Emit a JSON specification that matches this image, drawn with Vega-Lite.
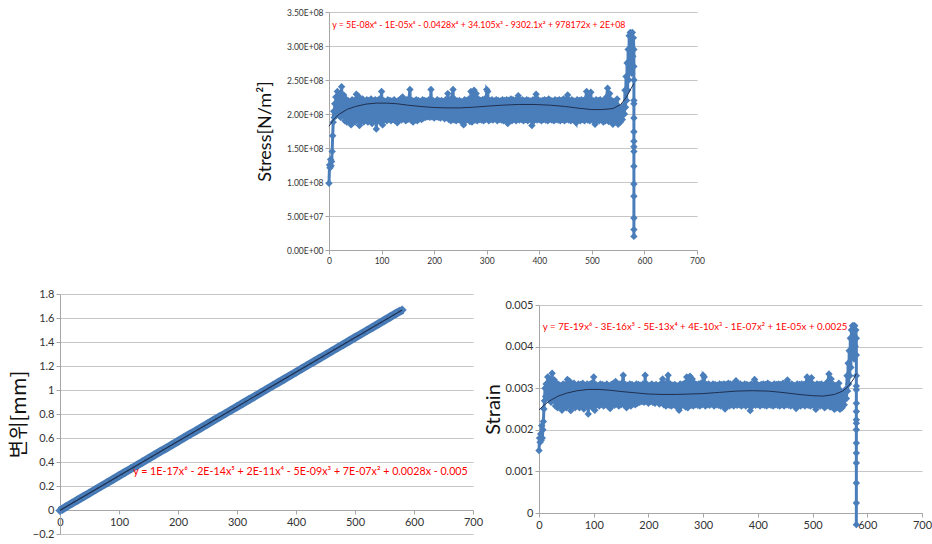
{
"$schema": "https://vega.github.io/schema/vega-lite/v6.json",
"padding": {"left": 9, "top": 8, "right": 0, "bottom": 0},
"background": "white",
"config": {
  "view": {"stroke": null},
  "font": "Lato",
  "axis": {"domainColor": "#a6a6a6", "tickColor": "#a6a6a6", "gridColor": "#c6c6c6", "labelColor": "#333333", "titleColor": "#111111", "titleFontWeight": "normal", "labelFont": "Lato", "tickSize": 4, "labelPadding": 2, "labelOverlap": false, "labelFlush": false, "tickCount": 20}
},
"datasets": {
  "ss": [
{"t":0,"s":0.98e8,"e":0.0015},{"t":1,"s":1.25e8,"e":0.0018},{"t":2,"s":1.21e8,"e":0.0017},{"t":3,"s":1.33e8,"e":0.0019},{"t":4,"s":1.24e8,"e":0.00175},{"t":5,"s":1.30e8,"e":0.0021},{"t":6,"s":1.45e8,"e":0.0018},{"t":7,"s":1.68e8,"e":0.002},{"t":8,"s":1.88e8,"e":0.0022},{"t":9,"s":2.04e8,"e":0.0025},{"t":10,"s":1.95e8,"e":0.0027},{"t":11,"s":2.15e8,"e":0.003},{"t":12,"s":2.02e8,"e":0.0028},{"t":13,"s":2.25e8,"e":0.0031},{"t":14,"s":1.98e8,"e":0.0028},
{"t":16,"s":2.33e8,"e":0.00327},{"t":18,"s":2.00e8,"e":0.00275},{"t":20,"s":2.30e8,"e":0.00322},{"t":22,"s":1.95e8,"e":0.00266},{"t":24,"s":2.40e8,"e":0.00336},{"t":26,"s":1.98e8,"e":0.00271},{"t":28,"s":2.28e8,"e":0.0032},{"t":30,"s":1.90e8,"e":0.00257},{"t":32,"s":2.22e8,"e":0.00312},{"t":34,"s":1.88e8,"e":0.00253},
{"t":36,"s":2.20e8,"e":0.00309},{"t":38,"s":1.92e8,"e":0.0026},{"t":40,"s":2.18e8,"e":0.00306},{"t":42,"s":1.84e8,"e":0.00247},{"t":44,"s":2.21e8,"e":0.0031},{"t":46,"s":1.90e8,"e":0.00257},{"t":48,"s":2.20e8,"e":0.00309},{"t":50,"s":1.88e8,"e":0.00253},{"t":52,"s":2.29e8,"e":0.00321},{"t":54,"s":1.92e8,"e":0.0026},
{"t":56,"s":2.26e8,"e":0.00317},{"t":58,"s":1.83e8,"e":0.00246},{"t":60,"s":2.20e8,"e":0.00309},{"t":62,"s":1.90e8,"e":0.00257},{"t":64,"s":2.22e8,"e":0.00312},{"t":66,"s":1.88e8,"e":0.00253},{"t":68,"s":2.18e8,"e":0.00306},{"t":70,"s":1.92e8,"e":0.0026},{"t":72,"s":2.21e8,"e":0.0031},{"t":74,"s":1.88e8,"e":0.00253},
{"t":76,"s":2.20e8,"e":0.00309},{"t":78,"s":1.90e8,"e":0.00257},{"t":80,"s":2.22e8,"e":0.00312},{"t":82,"s":1.86e8,"e":0.0025},{"t":84,"s":2.19e8,"e":0.00307},{"t":86,"s":1.92e8,"e":0.0026},{"t":88,"s":2.21e8,"e":0.0031},{"t":90,"s":1.78e8,"e":0.00238},{"t":92,"s":2.20e8,"e":0.00309},{"t":94,"s":1.90e8,"e":0.00257},
{"t":96,"s":2.22e8,"e":0.00312},{"t":98,"s":1.88e8,"e":0.00253},{"t":100,"s":2.33e8,"e":0.00327},{"t":102,"s":1.84e8,"e":0.00247},{"t":104,"s":2.20e8,"e":0.00309},{"t":106,"s":1.92e8,"e":0.0026},{"t":108,"s":2.18e8,"e":0.00306},{"t":110,"s":1.90e8,"e":0.00257},{"t":112,"s":2.21e8,"e":0.0031},{"t":114,"s":1.93e8,"e":0.00262},
{"t":116,"s":2.20e8,"e":0.00309},{"t":118,"s":1.90e8,"e":0.00257},{"t":120,"s":2.19e8,"e":0.00307},{"t":122,"s":1.92e8,"e":0.0026},{"t":124,"s":2.21e8,"e":0.0031},{"t":126,"s":1.90e8,"e":0.00257},{"t":128,"s":2.18e8,"e":0.00306},{"t":130,"s":1.87e8,"e":0.00251},{"t":132,"s":2.20e8,"e":0.00309},{"t":134,"s":1.92e8,"e":0.0026},
{"t":136,"s":2.22e8,"e":0.00312},{"t":138,"s":1.91e8,"e":0.00259},{"t":140,"s":2.25e8,"e":0.00316},{"t":142,"s":1.93e8,"e":0.00262},{"t":144,"s":2.20e8,"e":0.00309},{"t":146,"s":1.90e8,"e":0.00257},{"t":148,"s":2.21e8,"e":0.0031},{"t":150,"s":1.92e8,"e":0.0026},{"t":152,"s":2.22e8,"e":0.00312},{"t":154,"s":2.36e8,"e":0.00331},
{"t":156,"s":1.91e8,"e":0.00259},{"t":158,"s":2.20e8,"e":0.00309},{"t":160,"s":1.88e8,"e":0.00253},{"t":162,"s":2.19e8,"e":0.00307},{"t":164,"s":1.92e8,"e":0.0026},{"t":166,"s":2.21e8,"e":0.0031},{"t":168,"s":1.90e8,"e":0.00257},{"t":170,"s":2.20e8,"e":0.00309},{"t":172,"s":1.93e8,"e":0.00262},{"t":174,"s":2.18e8,"e":0.00306},
{"t":176,"s":1.92e8,"e":0.0026},{"t":178,"s":2.21e8,"e":0.0031},{"t":180,"s":1.94e8,"e":0.00264},{"t":182,"s":2.20e8,"e":0.00309},{"t":184,"s":1.95e8,"e":0.00266},{"t":186,"s":2.19e8,"e":0.00307},{"t":188,"s":1.96e8,"e":0.00268},{"t":190,"s":2.21e8,"e":0.0031},{"t":192,"s":1.95e8,"e":0.00266},{"t":194,"s":2.36e8,"e":0.00331},
{"t":196,"s":1.96e8,"e":0.00268},{"t":198,"s":2.20e8,"e":0.00309},{"t":200,"s":1.94e8,"e":0.00264},{"t":202,"s":2.18e8,"e":0.00306},{"t":204,"s":1.96e8,"e":0.00268},{"t":206,"s":2.21e8,"e":0.0031},{"t":208,"s":1.95e8,"e":0.00266},{"t":210,"s":2.19e8,"e":0.00307},{"t":212,"s":1.94e8,"e":0.00264},{"t":214,"s":2.20e8,"e":0.00309},
{"t":216,"s":1.96e8,"e":0.00268},{"t":218,"s":2.18e8,"e":0.00306},{"t":220,"s":1.93e8,"e":0.00262},{"t":222,"s":2.21e8,"e":0.0031},{"t":224,"s":1.95e8,"e":0.00266},{"t":226,"s":2.30e8,"e":0.00322},{"t":228,"s":1.92e8,"e":0.0026},{"t":230,"s":2.20e8,"e":0.00309},{"t":232,"s":1.90e8,"e":0.00257},{"t":234,"s":2.24e8,"e":0.00314},
{"t":236,"s":2.36e8,"e":0.00331},{"t":238,"s":1.91e8,"e":0.00259},{"t":240,"s":2.21e8,"e":0.0031},{"t":242,"s":1.90e8,"e":0.00257},{"t":244,"s":2.19e8,"e":0.00307},{"t":246,"s":1.92e8,"e":0.0026},{"t":248,"s":2.20e8,"e":0.00309},{"t":250,"s":1.90e8,"e":0.00257},{"t":252,"s":2.18e8,"e":0.00306},{"t":254,"s":1.88e8,"e":0.00253},
{"t":256,"s":1.84e8,"e":0.00247},{"t":258,"s":2.21e8,"e":0.0031},{"t":260,"s":1.90e8,"e":0.00257},{"t":262,"s":2.20e8,"e":0.00309},{"t":264,"s":1.92e8,"e":0.0026},{"t":266,"s":2.22e8,"e":0.00312},{"t":268,"s":1.89e8,"e":0.00255},{"t":270,"s":2.33e8,"e":0.00327},{"t":272,"s":1.88e8,"e":0.00253},{"t":274,"s":2.26e8,"e":0.00317},
{"t":276,"s":2.35e8,"e":0.00329},{"t":278,"s":1.91e8,"e":0.00259},{"t":280,"s":2.30e8,"e":0.00322},{"t":282,"s":1.90e8,"e":0.00257},{"t":284,"s":2.22e8,"e":0.00312},{"t":286,"s":1.92e8,"e":0.0026},{"t":288,"s":2.20e8,"e":0.00309},{"t":290,"s":1.91e8,"e":0.00259},{"t":292,"s":2.21e8,"e":0.0031},{"t":294,"s":1.90e8,"e":0.00257},
{"t":296,"s":2.22e8,"e":0.00312},{"t":298,"s":1.92e8,"e":0.0026},{"t":300,"s":2.36e8,"e":0.00331},{"t":302,"s":2.33e8,"e":0.00327},{"t":304,"s":1.90e8,"e":0.00257},{"t":306,"s":2.20e8,"e":0.00309},{"t":308,"s":1.92e8,"e":0.0026},{"t":310,"s":2.21e8,"e":0.0031},{"t":312,"s":1.91e8,"e":0.00259},{"t":314,"s":2.19e8,"e":0.00307},
{"t":316,"s":1.93e8,"e":0.00262},{"t":318,"s":2.21e8,"e":0.0031},{"t":320,"s":1.90e8,"e":0.00257},{"t":322,"s":2.20e8,"e":0.00309},{"t":324,"s":1.92e8,"e":0.0026},{"t":326,"s":2.19e8,"e":0.00307},{"t":328,"s":1.91e8,"e":0.00259},{"t":330,"s":2.21e8,"e":0.0031},{"t":332,"s":1.90e8,"e":0.00257},{"t":334,"s":2.20e8,"e":0.00309},
{"t":336,"s":1.92e8,"e":0.0026},{"t":338,"s":2.21e8,"e":0.0031},{"t":340,"s":1.86e8,"e":0.0025},{"t":342,"s":2.20e8,"e":0.00309},{"t":344,"s":1.91e8,"e":0.00259},{"t":346,"s":2.22e8,"e":0.00312},{"t":348,"s":1.90e8,"e":0.00257},{"t":350,"s":2.21e8,"e":0.0031},{"t":352,"s":1.92e8,"e":0.0026},{"t":354,"s":2.20e8,"e":0.00309},
{"t":356,"s":1.90e8,"e":0.00257},{"t":358,"s":2.22e8,"e":0.00312},{"t":360,"s":2.27e8,"e":0.00318},{"t":362,"s":1.91e8,"e":0.00259},{"t":364,"s":2.20e8,"e":0.00309},{"t":366,"s":1.92e8,"e":0.0026},{"t":368,"s":2.21e8,"e":0.0031},{"t":370,"s":1.90e8,"e":0.00257},{"t":372,"s":2.19e8,"e":0.00307},{"t":374,"s":1.92e8,"e":0.0026},
{"t":376,"s":2.21e8,"e":0.0031},{"t":378,"s":1.90e8,"e":0.00257},{"t":380,"s":2.20e8,"e":0.00309},{"t":382,"s":1.92e8,"e":0.0026},{"t":384,"s":2.19e8,"e":0.00307},{"t":386,"s":1.83e8,"e":0.00246},{"t":388,"s":2.21e8,"e":0.0031},{"t":390,"s":1.90e8,"e":0.00257},{"t":392,"s":2.20e8,"e":0.00309},{"t":394,"s":2.29e8,"e":0.00321},
{"t":396,"s":1.91e8,"e":0.00259},{"t":398,"s":2.21e8,"e":0.0031},{"t":400,"s":1.92e8,"e":0.0026},{"t":402,"s":2.19e8,"e":0.00307},{"t":404,"s":1.90e8,"e":0.00257},{"t":406,"s":2.20e8,"e":0.00309},{"t":408,"s":1.92e8,"e":0.0026},{"t":410,"s":2.21e8,"e":0.0031},{"t":412,"s":1.91e8,"e":0.00259},{"t":414,"s":2.20e8,"e":0.00309},
{"t":416,"s":1.90e8,"e":0.00257},{"t":418,"s":2.22e8,"e":0.00312},{"t":420,"s":1.92e8,"e":0.0026},{"t":422,"s":2.20e8,"e":0.00309},{"t":424,"s":1.91e8,"e":0.00259},{"t":426,"s":2.19e8,"e":0.00307},{"t":428,"s":1.90e8,"e":0.00257},{"t":430,"s":2.21e8,"e":0.0031},{"t":432,"s":1.92e8,"e":0.0026},{"t":434,"s":2.20e8,"e":0.00309},
{"t":436,"s":1.91e8,"e":0.00259},{"t":438,"s":2.21e8,"e":0.0031},{"t":440,"s":1.90e8,"e":0.00257},{"t":442,"s":2.20e8,"e":0.00309},{"t":444,"s":1.92e8,"e":0.0026},{"t":446,"s":2.22e8,"e":0.00312},{"t":448,"s":1.90e8,"e":0.00257},{"t":450,"s":2.21e8,"e":0.0031},{"t":452,"s":1.92e8,"e":0.0026},{"t":454,"s":2.28e8,"e":0.0032},
{"t":456,"s":1.91e8,"e":0.00259},{"t":458,"s":2.20e8,"e":0.00309},{"t":460,"s":1.90e8,"e":0.00257},{"t":462,"s":2.21e8,"e":0.0031},{"t":464,"s":1.92e8,"e":0.0026},{"t":466,"s":2.19e8,"e":0.00307},{"t":468,"s":1.90e8,"e":0.00257},{"t":470,"s":1.87e8,"e":0.00251},{"t":472,"s":2.21e8,"e":0.0031},{"t":474,"s":1.91e8,"e":0.00259},
{"t":476,"s":2.20e8,"e":0.00309},{"t":478,"s":1.90e8,"e":0.00257},{"t":480,"s":2.21e8,"e":0.0031},{"t":482,"s":1.92e8,"e":0.0026},{"t":484,"s":2.20e8,"e":0.00309},{"t":486,"s":1.90e8,"e":0.00257},{"t":488,"s":2.22e8,"e":0.00312},{"t":490,"s":2.33e8,"e":0.00327},{"t":492,"s":1.91e8,"e":0.00259},{"t":494,"s":2.25e8,"e":0.00316},
{"t":496,"s":1.90e8,"e":0.00257},{"t":498,"s":2.32e8,"e":0.00325},{"t":500,"s":1.92e8,"e":0.0026},{"t":502,"s":2.20e8,"e":0.00309},{"t":504,"s":1.90e8,"e":0.00257},{"t":506,"s":1.85e8,"e":0.00249},{"t":508,"s":2.21e8,"e":0.0031},{"t":510,"s":1.91e8,"e":0.00259},{"t":512,"s":2.20e8,"e":0.00309},{"t":514,"s":1.90e8,"e":0.00257},
{"t":516,"s":2.21e8,"e":0.0031},{"t":518,"s":1.92e8,"e":0.0026},{"t":520,"s":2.19e8,"e":0.00307},{"t":522,"s":1.88e8,"e":0.00253},{"t":524,"s":2.21e8,"e":0.0031},{"t":526,"s":1.90e8,"e":0.00257},{"t":528,"s":2.25e8,"e":0.00316},{"t":530,"s":2.38e8,"e":0.00334},{"t":532,"s":1.89e8,"e":0.00255},{"t":534,"s":2.30e8,"e":0.00322},
{"t":536,"s":1.90e8,"e":0.00257},{"t":538,"s":2.20e8,"e":0.00309},{"t":540,"s":1.85e8,"e":0.00249},{"t":542,"s":2.18e8,"e":0.00306},{"t":544,"s":1.88e8,"e":0.00253},{"t":546,"s":2.15e8,"e":0.00302},{"t":548,"s":2.22e8,"e":0.00312},{"t":550,"s":1.85e8,"e":0.00249},{"t":552,"s":2.10e8,"e":0.00293},{"t":554,"s":1.88e8,"e":0.00253},
{"t":556,"s":2.05e8,"e":0.00285},{"t":558,"s":1.92e8,"e":0.0026},{"t":560,"s":2.12e8,"e":0.00297},{"t":562,"s":2.00e8,"e":0.00275},{"t":563,"s":2.35e8,"e":0.0033},{"t":564,"s":2.10e8,"e":0.00293},{"t":565,"s":2.55e8,"e":0.0036},{"t":566,"s":2.20e8,"e":0.0031},{"t":567,"s":2.75e8,"e":0.0039},{"t":568,"s":2.35e8,"e":0.0033},
{"t":569,"s":2.95e8,"e":0.0042},{"t":570,"s":2.50e8,"e":0.0035},{"t":571,"s":3.15e8,"e":0.0044},{"t":572,"s":2.70e8,"e":0.0038},{"t":573,"s":3.20e8,"e":0.0045},{"t":574,"s":2.90e8,"e":0.0041},{"t":575,"s":3.18e8,"e":0.0045},{"t":576,"s":2.60e8,"e":0.0037},{"t":577,"s":3.20e8,"e":0.0045},{"t":578,"s":2.85e8,"e":0.004},
{"t":579,"s":3.12e8,"e":0.0044},{"t":580,"s":2.95e8,"e":0.0042},{"t":580,"s":2.70e8,"e":0.0038},{"t":580,"s":2.50e8,"e":0.0033},{"t":580,"s":2.20e8,"e":0.00305},{"t":580,"s":2.15e8,"e":0.00296},{"t":580,"s":1.94e8,"e":0.00264},{"t":580,"s":1.74e8,"e":0.00244},{"t":580,"s":1.60e8,"e":0.00224},{"t":580,"s":1.52e8,"e":0.00216},
{"t":580,"s":1.45e8,"e":0.002},{"t":580,"s":1.23e8,"e":0.00168},{"t":580,"s":0.97e8,"e":0.00144},{"t":580,"s":0.79e8,"e":0.0012},{"t":580,"s":0.47e8,"e":0.00072},{"t":580,"s":0.30e8,"e":0.00024},{"t":580,"s":0.20e8,"e":-0.00028}
  ],
  "trS": [
{"t":0,"v":1.82e8},{"t":10,"v":1.93e8},{"t":20,"v":2.0e8},{"t":35,"v":2.07e8},{"t":50,"v":2.11e8},{"t":70,"v":2.145e8},{"t":90,"v":2.16e8},{"t":110,"v":2.16e8},{"t":130,"v":2.15e8},{"t":150,"v":2.13e8},{"t":175,"v":2.11e8},{"t":200,"v":2.095e8},{"t":225,"v":2.09e8},{"t":250,"v":2.09e8},{"t":275,"v":2.1e8},{"t":300,"v":2.115e8},{"t":330,"v":2.13e8},{"t":360,"v":2.14e8},{"t":390,"v":2.14e8},{"t":420,"v":2.13e8},{"t":450,"v":2.11e8},{"t":475,"v":2.085e8},{"t":500,"v":2.065e8},{"t":520,"v":2.065e8},{"t":540,"v":2.08e8},{"t":555,"v":2.14e8},{"t":565,"v":2.24e8},{"t":575,"v":2.38e8},{"t":580,"v":2.45e8}
  ],
  "trE": [
{"t":0,"v":0.00248},{"t":10,"v":0.0026},{"t":20,"v":0.0027},{"t":35,"v":0.00281},{"t":50,"v":0.00288},{"t":70,"v":0.00294},{"t":90,"v":0.00297},{"t":110,"v":0.00297},{"t":130,"v":0.00295},{"t":150,"v":0.00292},{"t":175,"v":0.00289},{"t":200,"v":0.00286},{"t":225,"v":0.00285},{"t":250,"v":0.00285},{"t":275,"v":0.00286},{"t":300,"v":0.00287},{"t":330,"v":0.0029},{"t":360,"v":0.00293},{"t":390,"v":0.00294},{"t":420,"v":0.00293},{"t":450,"v":0.00289},{"t":475,"v":0.00285},{"t":500,"v":0.00282},{"t":520,"v":0.00281},{"t":540,"v":0.00285},{"t":555,"v":0.00293},{"t":565,"v":0.00304},{"t":575,"v":0.00322},{"t":580,"v":0.00335}
  ],
  "disp": [
{"t":0,"d":-0.005},{"t":10,"d":0.026},{"t":20,"d":0.055},{"t":30,"d":0.083},{"t":40,"d":0.112},{"t":50,"d":0.141},{"t":60,"d":0.17},{"t":70,"d":0.199},{"t":80,"d":0.227},{"t":90,"d":0.256},{"t":100,"d":0.285},{"t":110,"d":0.314},{"t":120,"d":0.343},{"t":130,"d":0.371},{"t":140,"d":0.4},{"t":150,"d":0.429},{"t":160,"d":0.458},{"t":170,"d":0.487},{"t":180,"d":0.515},{"t":190,"d":0.544},{"t":200,"d":0.573},{"t":210,"d":0.602},{"t":220,"d":0.631},{"t":230,"d":0.659},{"t":240,"d":0.688},{"t":250,"d":0.717},{"t":260,"d":0.746},{"t":270,"d":0.775},{"t":280,"d":0.803},{"t":290,"d":0.832},{"t":300,"d":0.861},{"t":310,"d":0.89},{"t":320,"d":0.919},{"t":330,"d":0.947},{"t":340,"d":0.976},{"t":350,"d":1.005},{"t":360,"d":1.034},{"t":370,"d":1.063},{"t":380,"d":1.091},{"t":390,"d":1.12},{"t":400,"d":1.149},{"t":410,"d":1.178},{"t":420,"d":1.207},{"t":430,"d":1.235},{"t":440,"d":1.264},{"t":450,"d":1.293},{"t":460,"d":1.322},{"t":470,"d":1.351},{"t":480,"d":1.379},{"t":490,"d":1.408},{"t":500,"d":1.437},{"t":510,"d":1.466},{"t":520,"d":1.495},{"t":530,"d":1.523},{"t":540,"d":1.552},{"t":550,"d":1.581},{"t":560,"d":1.61},{"t":570,"d":1.639},{"t":580,"d":1.667}
  ],
  "trD": [{"t":0,"v":-0.003},{"t":290,"v":0.832},{"t":580,"v":1.667}]
},
"vconcat": [
  {"hconcat": [
    {"width": 196, "height": 10, "data": {"values": [{}]}, "mark": {"type": "point", "opacity": 0}, "encoding": {}},
    {"width": 368, "height": 238,
     "layer": [
      {"data": {"name": "ss"}, "mark": {"type": "line", "color": "#4a7ebb", "strokeWidth": 3},
       "encoding": {"x": {"field": "t", "type": "quantitative", "scale": {"domain": [0, 700], "nice": false},
          "axis": {"values": [0,100,200,300,400,500,600,700], "grid": false, "title": null, "labelFontSize": 8.5}},
         "y": {"field": "s", "type": "quantitative", "scale": {"domain": [0, 350000000], "nice": false, "zero": false},
          "axis": {"values": [0,50000000,100000000,150000000,200000000,250000000,300000000,350000000], "tickCount": 20, "labelOverlap": false, "labelExpr": "replace(format(datum.value, '.2e'), 'e+', 'E+0')", "title": "Stress[N/m²]", "titleFontSize": 18, "titlePadding": 12, "labelFontSize": 8.5}},
         "order": {"value": null}}},
      {"data": {"name": "ss"}, "mark": {"type": "point", "shape": "diamond", "filled": true, "size": 55, "color": "#4a7ebb", "opacity": 1},
       "encoding": {"x": {"field": "t", "type": "quantitative"}, "y": {"field": "s", "type": "quantitative"}}},
      {"data": {"name": "trS"}, "mark": {"type": "line", "color": "#1f2f4f", "strokeWidth": 1},
       "encoding": {"x": {"field": "t", "type": "quantitative"}, "y": {"field": "v", "type": "quantitative"}}},
      {"data": {"values": [{"t": 6, "v": 331000000, "label": "y = 5E-08x⁶ - 1E-05x⁵ - 0.0428x⁴ + 34.105x³ - 9302.1x² + 978172x + 2E+08"}]},
       "mark": {"type": "text", "align": "left", "baseline": "middle", "color": "#ff0000", "fontSize": 8.8, "font": "Lato"},
       "encoding": {"x": {"field": "t", "type": "quantitative"}, "y": {"field": "v", "type": "quantitative"}, "text": {"field": "label"}}}
     ]}
  ], "spacing": 0},
  {"hconcat": [
    {"width": 413, "height": 240,
     "layer": [
      {"data": {"name": "disp"}, "mark": {"type": "line", "color": "#4a7ebb", "strokeWidth": 8},
       "encoding": {"x": {"field": "t", "type": "quantitative", "scale": {"domain": [0, 700], "nice": false},
          "axis": {"values": [0,100,200,300,400,500,600,700], "grid": false, "title": null, "labelFontSize": 11, "offset": -24}},
         "y": {"field": "d", "type": "quantitative", "scale": {"domain": [-0.2, 1.8], "nice": false, "zero": false},
          "axis": {"values": [-0.2,0,0.2,0.4,0.6,0.8,1,1.2,1.4,1.6,1.8], "tickCount": 20, "labelOverlap": false, "format": ".1~f", "title": "변위[mm]", "titleFont": "Noto Sans CJK KR", "titleFontSize": 20, "titlePadding": 3, "labelFontSize": 11}}}},
      {"data": {"name": "disp"}, "mark": {"type": "point", "shape": "diamond", "filled": true, "size": 70, "color": "#4a7ebb", "stroke": "#3f6ea6", "strokeWidth": 0.6, "opacity": 1},
       "encoding": {"x": {"field": "t", "type": "quantitative"}, "y": {"field": "d", "type": "quantitative"}}},
      {"data": {"name": "trD"}, "mark": {"type": "line", "color": "#1f2f4f", "strokeWidth": 1.2},
       "encoding": {"x": {"field": "t", "type": "quantitative"}, "y": {"field": "v", "type": "quantitative"}}},
      {"data": {"values": [{"t": 124, "v": 0.317, "label": "y = 1E-17x⁶ - 2E-14x⁵ + 2E-11x⁴ - 5E-09x³ + 7E-07x² + 0.0028x - 0.005"}]},
       "mark": {"type": "text", "align": "left", "baseline": "middle", "color": "#ff0000", "fontSize": 10.7, "font": "Lato"},
       "encoding": {"x": {"field": "t", "type": "quantitative"}, "y": {"field": "v", "type": "quantitative"}, "text": {"field": "label"}}}
     ]},
    {"width": 383, "height": 219,
     "layer": [
      {"data": {"name": "ss"}, "mark": {"type": "line", "color": "#4a7ebb", "strokeWidth": 3},
       "encoding": {"x": {"field": "t", "type": "quantitative", "scale": {"domain": [0, 700], "nice": false},
          "axis": {"values": [0,100,200,300,400,500,600,700], "grid": false, "title": null, "labelFontSize": 11}},
         "y": {"field": "e", "type": "quantitative", "scale": {"domain": [0, 0.005], "nice": false, "zero": false, "range": [219, 11]},
          "axis": {"values": [0,0.001,0.002,0.003,0.004,0.005], "tickCount": 20, "labelOverlap": false, "format": ".3~f", "title": "Strain", "titleFontSize": 20, "titlePadding": 1, "labelFontSize": 11}},
         "order": {"value": null}}},
      {"data": {"name": "ss"}, "mark": {"type": "point", "shape": "diamond", "filled": true, "size": 55, "color": "#4a7ebb", "opacity": 1},
       "encoding": {"x": {"field": "t", "type": "quantitative"}, "y": {"field": "e", "type": "quantitative"}}},
      {"data": {"name": "trE"}, "mark": {"type": "line", "color": "#1f2f4f", "strokeWidth": 1},
       "encoding": {"x": {"field": "t", "type": "quantitative"}, "y": {"field": "v", "type": "quantitative"}}},
      {"data": {"values": [{"t": 7, "v": 0.00447, "label": "y = 7E-19x⁶ - 3E-16x⁵ - 5E-13x⁴ + 4E-10x³ - 1E-07x² + 1E-05x + 0.0025"}]},
       "mark": {"type": "text", "align": "left", "baseline": "middle", "color": "#ff0000", "fontSize": 9.7, "font": "Lato"},
       "encoding": {"x": {"field": "t", "type": "quantitative"}, "y": {"field": "v", "type": "quantitative"}, "text": {"field": "label"}}}
     ]}
  ], "spacing": 0}
],
"spacing": 23
}
